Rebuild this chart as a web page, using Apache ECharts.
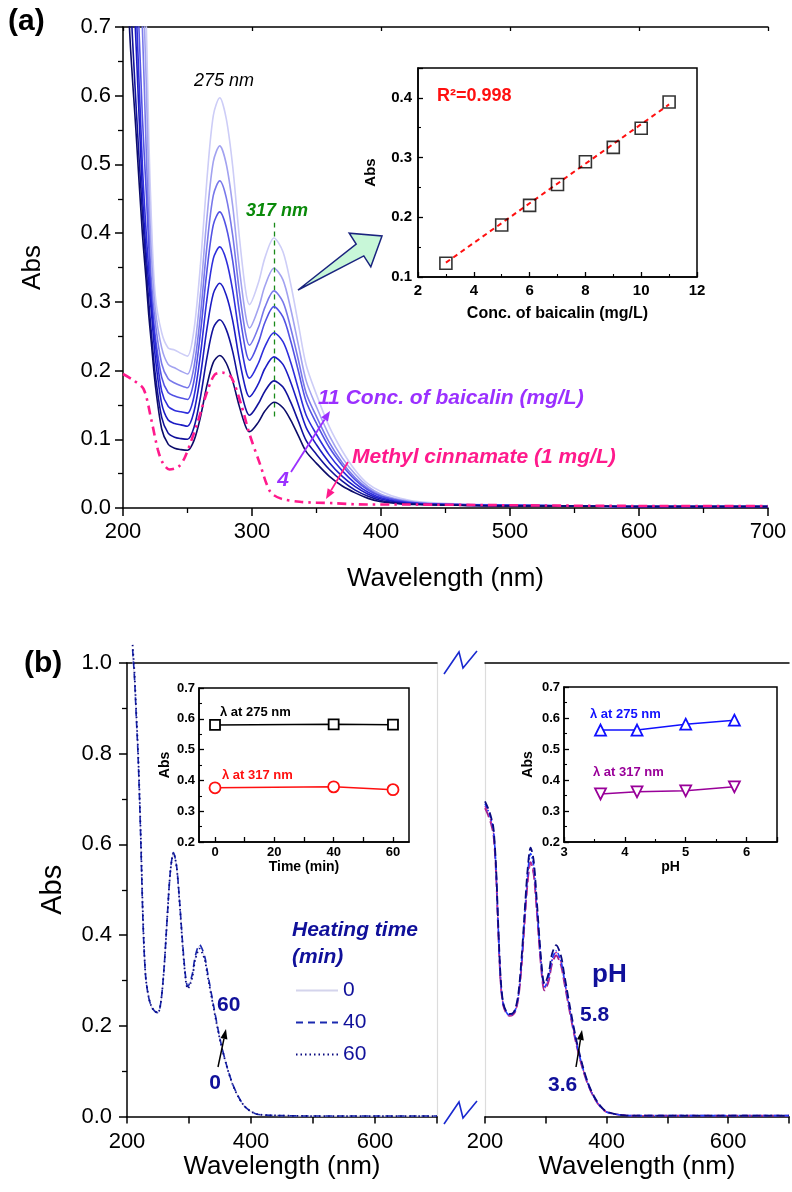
<!DOCTYPE html>
<html><head><meta charset="utf-8">
<script src="https://cdn.jsdelivr.net/npm/echarts@6/dist/echarts.min.js"></script>
<style>html,body{margin:0;padding:0;background:#fff}#c{width:792px;height:1192px}</style>
</head><body><div id="c"></div>
<script>
// ---------- DATA ----------
// Panel (a): wavelength grid (nm)
const wlA = [200,205,210,215,218,220,222,225,230,235,240,245,250,255,260,265,270,275,280,285,290,295,298,305,310,317,324,330,336,342,350,360,370,380,390,400,415,430,460,500,550,600,700];
// Baicalin spectra, low to high concentration
const baic1 = [1.00,0.70,0.55,0.40,0.33,0.28,0.24,0.18,0.115,0.093,0.087,0.085,0.084,0.098,0.132,0.178,0.212,0.222,0.211,0.185,0.149,0.119,0.111,0.125,0.141,0.154,0.146,0.128,0.105,0.082,0.065,0.046,0.032,0.022,0.014,0.009,0.006,0.005,0.004,0.003,0.003,0.002,0.002];
const baic2 = [1.10,0.78,0.59,0.43,0.35,0.30,0.255,0.195,0.132,0.109,0.103,0.101,0.100,0.117,0.161,0.218,0.262,0.274,0.260,0.228,0.182,0.145,0.135,0.152,0.170,0.185,0.176,0.154,0.126,0.098,0.078,0.056,0.039,0.026,0.017,0.011,0.007,0.005,0.004,0.003,0.003,0.002,0.002];
const baic3 = [1.25,0.88,0.68,0.46,0.37,0.325,0.285,0.22,0.152,0.128,0.123,0.121,0.119,0.140,0.192,0.260,0.312,0.327,0.310,0.273,0.218,0.174,0.162,0.181,0.203,0.220,0.209,0.183,0.150,0.117,0.092,0.066,0.046,0.031,0.020,0.013,0.008,0.006,0.004,0.003,0.003,0.002,0.002];
const baic4 = [1.35,0.98,0.74,0.50,0.40,0.345,0.30,0.24,0.17,0.148,0.142,0.140,0.138,0.162,0.223,0.303,0.363,0.380,0.361,0.317,0.254,0.202,0.189,0.211,0.235,0.255,0.242,0.212,0.173,0.135,0.107,0.077,0.054,0.036,0.023,0.015,0.009,0.006,0.005,0.004,0.003,0.002,0.002];
const baic5 = [1.45,1.08,0.82,0.57,0.46,0.38,0.31,0.25,0.19,0.168,0.163,0.160,0.158,0.185,0.254,0.344,0.412,0.431,0.409,0.360,0.288,0.230,0.215,0.241,0.270,0.293,0.278,0.243,0.199,0.155,0.123,0.088,0.062,0.041,0.026,0.017,0.010,0.007,0.005,0.004,0.003,0.002,0.002];
const baic6 = [1.55,1.18,0.92,0.70,0.52,0.41,0.33,0.27,0.21,0.188,0.182,0.178,0.175,0.205,0.280,0.380,0.455,0.476,0.452,0.397,0.318,0.254,0.237,0.263,0.292,0.316,0.300,0.262,0.215,0.167,0.133,0.095,0.066,0.044,0.028,0.018,0.011,0.007,0.005,0.004,0.003,0.002,0.002];
const baic7 = [1.65,1.28,1.02,0.79,0.62,0.47,0.37,0.29,0.233,0.209,0.204,0.199,0.195,0.228,0.311,0.421,0.504,0.527,0.501,0.440,0.352,0.281,0.262,0.291,0.323,0.349,0.332,0.290,0.237,0.185,0.147,0.105,0.073,0.049,0.031,0.020,0.012,0.008,0.005,0.004,0.003,0.002,0.002];
const baic8 = [1.75,1.38,1.12,0.88,0.71,0.54,0.42,0.31,0.255,0.233,0.230,0.225,0.221,0.259,0.353,0.477,0.571,0.597,0.567,0.498,0.398,0.317,0.296,0.328,0.364,0.393,0.373,0.326,0.267,0.208,0.165,0.118,0.083,0.055,0.035,0.024,0.014,0.009,0.006,0.004,0.003,0.002,0.002];
// Methyl cinnamate (1 mg/L)
const mcWl  = [200,208,216,222,227,231,236,243,248,257,265,271,277,284,292,298,306,314,322,337,363,389,420,500,600,700];
const mcAbs = [0.195,0.186,0.173,0.128,0.085,0.065,0.056,0.060,0.074,0.120,0.168,0.194,0.197,0.190,0.148,0.108,0.065,0.024,0.014,0.009,0.007,0.005,0.005,0.004,0.003,0.003];
// 317 nm guide line (Abs range)
const guide317 = [0.133, 0.415];
// Inset (a): calibration
const calConc = [3,5,6,7,8,9,10,11];
const calAbs  = [0.123,0.187,0.220,0.255,0.293,0.317,0.349,0.393];
const fitConc = [3,11];
const fitAbs  = [0.124,0.389];

// Panel (b) left: heating time
const wlB = [209,212,215,218,222,226,230,235,240,245,250,255,260,265,270,275,280,285,290,295,298,305,310,317,325,330,340,350,360,370,380,390,400,410,425,450,500,600,700];
const heat0  = [1.02,0.96,0.88,0.79,0.62,0.42,0.31,0.262,0.240,0.231,0.228,0.255,0.330,0.440,0.540,0.580,0.550,0.470,0.375,0.300,0.285,0.310,0.350,0.376,0.352,0.315,0.240,0.170,0.115,0.072,0.042,0.022,0.011,0.005,0.003,0.002,0.001,0.001,0.001];
const heat40 = [1.03,0.97,0.88,0.79,0.62,0.42,0.31,0.262,0.241,0.232,0.229,0.256,0.332,0.442,0.542,0.582,0.552,0.471,0.377,0.302,0.287,0.312,0.353,0.379,0.355,0.317,0.242,0.171,0.116,0.073,0.043,0.022,0.011,0.005,0.003,0.002,0.001,0.001,0.001];
const heat60 = [1.04,0.98,0.89,0.80,0.63,0.43,0.31,0.263,0.241,0.232,0.229,0.256,0.331,0.441,0.541,0.581,0.550,0.468,0.372,0.297,0.282,0.305,0.345,0.370,0.347,0.310,0.237,0.169,0.115,0.072,0.042,0.022,0.011,0.005,0.003,0.002,0.001,0.001,0.001];
const heatNames = ['0','40','60'];
// Panel (b) right: pH
const wlC = [200,205,210,214,218,222,226,230,235,240,245,250,255,260,265,270,275,280,285,290,295,298,305,310,317,325,330,340,350,360,370,380,390,400,420,440,500,600,700];
const pH36 = [0.680,0.665,0.645,0.620,0.540,0.400,0.290,0.245,0.228,0.222,0.223,0.232,0.262,0.330,0.425,0.515,0.561,0.535,0.455,0.365,0.292,0.278,0.300,0.335,0.355,0.333,0.298,0.226,0.160,0.108,0.068,0.040,0.021,0.010,0.004,0.002,0.002,0.002,0.002];
const pH42 = [0.685,0.670,0.650,0.625,0.545,0.405,0.292,0.246,0.229,0.223,0.224,0.233,0.263,0.331,0.426,0.516,0.561,0.536,0.458,0.370,0.297,0.283,0.306,0.342,0.362,0.340,0.304,0.230,0.163,0.110,0.069,0.041,0.021,0.010,0.004,0.002,0.002,0.002,0.002];
const pH50 = [0.690,0.675,0.655,0.630,0.550,0.410,0.295,0.248,0.230,0.224,0.225,0.235,0.268,0.340,0.438,0.532,0.580,0.553,0.470,0.376,0.300,0.286,0.309,0.345,0.365,0.342,0.306,0.232,0.165,0.111,0.070,0.041,0.022,0.010,0.004,0.002,0.002,0.002,0.002];
const pH58 = [0.695,0.680,0.660,0.635,0.555,0.415,0.300,0.250,0.232,0.226,0.227,0.238,0.272,0.347,0.447,0.543,0.593,0.565,0.480,0.385,0.308,0.293,0.318,0.357,0.378,0.354,0.316,0.240,0.170,0.115,0.072,0.043,0.023,0.011,0.004,0.002,0.002,0.002,0.002];
// Inset (b) left: time
const timeMin = [0,40,60];
const time275 = [0.580,0.582,0.581];
const time317 = [0.376,0.379,0.370];
// Inset (b) right: pH
const pHVals = [3.6,4.2,5.0,5.8];
const pH275 = [0.561,0.561,0.580,0.593];
const pH317 = [0.355,0.362,0.365,0.378];

// ---------- CHART ----------
const SANS = "'Liberation Sans', Arial, sans-serif";
const zip = (xs, ys) => xs.map((x, i) => [x, ys[i]]);
const chart = echarts.init(document.getElementById('c'), null, {renderer: 'canvas'});

function lineAx(extra) {
  return Object.assign({
    type: 'value',
    splitLine: {show: false},
    axisLine: {show: true, onZero: false, lineStyle: {color: '#000', width: 1.5}},
    axisTick: {show: true, length: 8, lineStyle: {color: '#000', width: 1.5}},
    minorTick: {show: false},
    axisLabel: {color: '#000', fontFamily: SANS, fontSize: 22},
    nameTextStyle: {color: '#000', fontFamily: SANS}
  }, extra);
}
const fmt1 = v => (Math.abs(v * 10 - Math.round(v * 10)) < 1e-6 ? v.toFixed(1) : '');
const insetTick = {show: true, inside: true, length: 5, lineStyle: {color: '#000', width: 1.3}};
const insetMinor = {show: true, splitNumber: 2, length: 3, lineStyle: {color: '#000', width: 1.1}};
const insetLabel = {color: '#000', fontFamily: SANS, fontWeight: 'bold', fontSize: 13, margin: 4};

const baicSeries = [baic1, baic2, baic3, baic4, baic5, baic6, baic7, baic8];
const baicColors = ['#0c0c6a', '#12129c', '#1c1cc4', '#2e2edc', '#5252e4', '#7878ea', '#a2a2f0', '#cdcdf7'];

const series = [];
baicSeries.forEach((arr, i) => {
  const s = {
    name: 'c' + (i + 1), type: 'line', xAxisIndex: 0, yAxisIndex: 0,
    data: zip(wlA, arr), symbol: 'none', smooth: 0.3, z: 10 - i,
    lineStyle: {color: baicColors[i], width: 1.6}
  };
  if (i === 0) {
    s.markLine = {
      silent: true, symbol: ['none', 'none'], label: {show: false},
      lineStyle: {color: '#1a8a1a', type: [5, 4], width: 1.3},
      data: [[{coord: [317, guide317[0]]}, {coord: [317, guide317[1]]}]]
    };
  }
  series.push(s);
});
series.push({
  name: 'MC', type: 'line', xAxisIndex: 0, yAxisIndex: 0, data: zip(mcWl, mcAbs),
  symbol: 'none', smooth: 0.3, z: 20,
  lineStyle: {color: '#ff1a8c', width: 2.6, type: [9, 5, 2.5, 5]}
});
// inset a
series.push({
  type: 'line', xAxisIndex: 2, yAxisIndex: 1, data: zip(fitConc, fitAbs), symbol: 'none', z: 30,
  lineStyle: {color: '#ff1010', width: 2, type: [5, 4]}
});
series.push({
  type: 'scatter', xAxisIndex: 2, yAxisIndex: 1, data: zip(calConc, calAbs), symbol: 'rect', symbolSize: 12, z: 31,
  itemStyle: {color: 'rgba(255,255,255,0)', borderColor: '#000', borderWidth: 1.6}
});
// panel b left
const heatData = [heat0, heat40, heat60];
const heatStyle = [
  {color: '#d4d4ec', width: 1.2, type: 'solid'},
  {color: '#1a2ab0', width: 1.6, type: [7, 5]},
  {color: '#0a0a80', width: 1.8, type: [1.5, 3]}
];
heatData.forEach((arr, i) => {
  series.push({
    name: heatNames[i], type: 'line', xAxisIndex: 3, yAxisIndex: 2, data: zip(wlB, arr),
    symbol: 'none', smooth: 0.3, clip: false, z: 10 + i, lineStyle: heatStyle[i],
    itemStyle: {color: heatStyle[i].color}
  });
});
// panel b right
const pHData = [pH36, pH42, pH50, pH58];
const pHStyle = [
  {color: '#a0208c', width: 1.8, type: [10, 4]},
  {color: '#cc3399', width: 1.4, type: [6, 3, 2, 3]},
  {color: '#1f3fff', width: 1.6, type: [5, 2, 1.5, 2]},
  {color: '#0a0a80', width: 1.8, type: [8, 4]}
];
pHData.forEach((arr, i) => {
  series.push({
    type: 'line', xAxisIndex: 5, yAxisIndex: 4, data: zip(wlC, arr),
    symbol: 'none', smooth: 0.3, clip: false, z: 10 + i, lineStyle: pHStyle[i]
  });
});
// inset b left
series.push({type: 'line', xAxisIndex: 7, yAxisIndex: 5, data: zip(timeMin, time275), symbol: 'rect', symbolSize: 10, z: 30,
  lineStyle: {color: '#000', width: 1.5}, itemStyle: {color: '#fff', borderColor: '#000', borderWidth: 1.8}});
series.push({type: 'line', xAxisIndex: 7, yAxisIndex: 5, data: zip(timeMin, time317), symbol: 'circle', symbolSize: 11, z: 30,
  lineStyle: {color: '#ff1010', width: 1.5}, itemStyle: {color: '#fff', borderColor: '#ff1010', borderWidth: 1.8}});
// inset b right
series.push({type: 'line', xAxisIndex: 8, yAxisIndex: 6, data: zip(pHVals, pH275), symbol: 'triangle', symbolSize: 11, z: 30,
  lineStyle: {color: '#1010ff', width: 1.5}, itemStyle: {color: '#fff', borderColor: '#1010ff', borderWidth: 1.8}});
series.push({type: 'line', xAxisIndex: 8, yAxisIndex: 6, data: zip(pHVals, pH317), symbol: 'triangle', symbolRotate: 180, symbolSize: 11, z: 30,
  lineStyle: {color: '#990099', width: 1.5}, itemStyle: {color: '#fff', borderColor: '#990099', borderWidth: 1.8}});

function arrow(x1, y1, x2, y2, color, w, hl, hw) {
  const a = Math.atan2(y2 - y1, x2 - x1), c = Math.cos(a), s = Math.sin(a);
  const bx = x2 - hl * c, by = y2 - hl * s;
  return [
    {type: 'line', z: 100, shape: {x1: x1, y1: y1, x2: bx, y2: by}, style: {stroke: color, lineWidth: w}},
    {type: 'polygon', z: 100, shape: {points: [[x2, y2], [bx + hw * s, by - hw * c], [bx - hw * s, by + hw * c]]}, style: {fill: color}}
  ];
}
function txt(text, x, y, font, fill, align) {
  return {type: 'text', z: 100, x: x, y: y, style: {text: text, font: font, fill: fill, textAlign: align || 'left', textVerticalAlign: 'middle'}};
}
const navy = '#10109a';
const graphic = [
  txt('(a)', 8, 22, "bold 30px " + SANS, '#000'),
  txt('(b)', 24, 664, "bold 30px " + SANS, '#000'),
  txt('275 nm', 224, 81, "italic 18px " + SANS, '#000', 'center'),
  txt('317 nm', 277, 211, "italic bold 18px " + SANS, '#0a8a0a', 'center'),
  txt('R²=0.998', 437, 96, "bold 18px " + SANS, '#ff1010'),
  txt('11 Conc. of baicalin (mg/L)', 318, 398, "italic bold 21px " + SANS, '#9b30ff'),
  txt('4', 283, 480, "italic bold 21px " + SANS, '#9b30ff', 'center'),
  txt('Methyl cinnamate (1 mg/L)', 352, 457, "italic bold 21px " + SANS, '#ff1a8c'),
  txt('λ at 275 nm', 220, 712, "bold 13px " + SANS, '#000'),
  txt('λ at 317 nm', 222, 775, "bold 13px " + SANS, '#ff1010'),
  txt('λ at 275 nm', 590, 714, "bold 13px " + SANS, '#1010ff'),
  txt('λ at 317 nm', 593, 772, "bold 13px " + SANS, '#990099'),
  txt('Heating time', 292, 930, "italic bold 21px " + SANS, navy),
  txt('(min)', 292, 957, "italic bold 21px " + SANS, navy),
  txt('60', 217, 1005, "bold 21px " + SANS, navy),
  txt('0', 215, 1083, "bold 21px " + SANS, navy, 'center'),
  txt('pH', 592, 975, "bold 26px " + SANS, navy),
  txt('5.8', 580, 1015, "bold 21px " + SANS, navy),
  txt('3.6', 548, 1085, "bold 21px " + SANS, navy),
  // block arrow
  {type: 'polygon', z: 100, shape: {points: [[298, 290], [363.8, 255.9], [370.8, 266.8], [382, 236], [349.2, 233.2], [356.2, 244.1]]},
   style: {fill: '#c8f7d8', stroke: '#1a237e', lineWidth: 1.5}},
  // axis break marks
  {type: 'polyline', z: 100, shape: {points: [[444, 674], [459, 652], [463, 668], [477, 651]]}, style: {stroke: '#1a2ad0', lineWidth: 1.6, fill: null}},
  {type: 'polyline', z: 100, shape: {points: [[444, 1124], [459, 1102], [463, 1118], [477, 1101]]}, style: {stroke: '#1a2ad0', lineWidth: 1.6, fill: null}}
]
  .concat(arrow(291, 472, 330, 411, '#9b30ff', 1.8, 10, 4))
  .concat(arrow(348, 462, 326, 499, '#ff1a8c', 1.8, 10, 4))
  .concat(arrow(218, 1067, 226, 1029, '#000', 1.5, 10, 3.5))
  .concat(arrow(576, 1067, 582, 1030, '#000', 1.5, 10, 3.5));

const wlLabel = v => (v === 200 || v === 400 || v === 600) ? String(v) : '';

const option = {
  animation: false,
  backgroundColor: '#fff',
  grid: [
    {left: 123, top: 27, width: 645, height: 481},
    {left: 418, top: 68, width: 279, height: 209, show: true, borderColor: '#000', borderWidth: 1.5, backgroundColor: '#fff'},
    {left: 127, top: 663, width: 310, height: 453.5},
    {left: 485, top: 663, width: 311, height: 453.5},
    {left: 199, top: 688, width: 210, height: 154, show: true, borderColor: '#000', borderWidth: 1.5, backgroundColor: '#fff'},
    {left: 564, top: 687, width: 213, height: 155, show: true, borderColor: '#000', borderWidth: 1.5, backgroundColor: '#fff'}
  ],
  xAxis: [
    lineAx({gridIndex: 0, min: 200, max: 700, interval: 100,
      minorTick: {show: true, splitNumber: 2, length: 5, lineStyle: {color: '#000', width: 1.3}},
      axisLabel: {color: '#000', fontFamily: SANS, fontSize: 22, margin: 13},
      name: 'Wavelength (nm)', nameLocation: 'middle', nameGap: 58, nameTextStyle: {color: '#000', fontFamily: SANS, fontSize: 26}}),
    lineAx({gridIndex: 0, position: 'top', min: 200, max: 700, interval: 100,
      axisTick: {show: true, inside: true, length: 4, lineStyle: {color: '#000', width: 1.3}}, axisLabel: {show: false}}),
    lineAx({gridIndex: 1, min: 2, max: 12, interval: 2, axisTick: insetTick, minorTick: insetMinor,
      axisLabel: Object.assign({}, insetLabel, {fontSize: 15, margin: 6}),
      name: 'Conc. of baicalin (mg/L)', nameLocation: 'middle', nameGap: 29,
      nameTextStyle: {color: '#000', fontFamily: SANS, fontWeight: 'bold', fontSize: 16}}),
    lineAx({gridIndex: 2, min: 200, max: 700, interval: 100, axisTick: {show: true, length: 7, lineStyle: {color: '#000', width: 1.5}},
      axisLabel: {color: '#000', fontFamily: SANS, fontSize: 22, margin: 14, formatter: wlLabel},
      name: 'Wavelength (nm)', nameLocation: 'middle', nameGap: 35, nameTextStyle: {color: '#000', fontFamily: SANS, fontSize: 26}}),
    lineAx({gridIndex: 2, position: 'top', min: 200, max: 700, axisTick: {show: false}, axisLabel: {show: false}}),
    lineAx({gridIndex: 3, min: 200, max: 700, interval: 100, axisTick: {show: true, length: 7, lineStyle: {color: '#000', width: 1.5}},
      axisLabel: {color: '#000', fontFamily: SANS, fontSize: 22, margin: 14, formatter: wlLabel},
      name: 'Wavelength (nm)', nameLocation: 'middle', nameGap: 35, nameTextStyle: {color: '#000', fontFamily: SANS, fontSize: 26}}),
    lineAx({gridIndex: 3, position: 'top', min: 200, max: 700, axisTick: {show: false}, axisLabel: {show: false}}),
    lineAx({gridIndex: 4, min: -5.4, max: 65.4,
      axisTick: Object.assign({}, insetTick, {customValues: [0, 10, 20, 30, 40, 50, 60]}),
      axisLabel: Object.assign({}, insetLabel, {customValues: [0, 20, 40, 60]}),
      name: 'Time (min)', nameLocation: 'middle', nameGap: 18,
      nameTextStyle: {color: '#000', fontFamily: SANS, fontWeight: 'bold', fontSize: 14}}),
    lineAx({gridIndex: 5, min: 3, max: 6.5, interval: 1, axisTick: insetTick, minorTick: insetMinor,
      axisLabel: Object.assign({}, insetLabel, {formatter: v => (Number.isInteger(v) ? String(v) : '')}),
      name: 'pH', nameLocation: 'middle', nameGap: 18,
      nameTextStyle: {color: '#000', fontFamily: SANS, fontWeight: 'bold', fontSize: 14}})
  ],
  yAxis: [
    lineAx({gridIndex: 0, min: 0, max: 0.7, interval: 0.1,
      minorTick: {show: true, splitNumber: 2, length: 5, lineStyle: {color: '#000', width: 1.3}},
      axisLabel: {color: '#000', fontFamily: SANS, fontSize: 22, margin: 12, formatter: fmt1},
      name: 'Abs', nameLocation: 'middle', nameGap: 77, nameRotate: 90, nameTextStyle: {color: '#000', fontFamily: SANS, fontSize: 26}}),
    lineAx({gridIndex: 1, min: 0.1, max: 0.45, interval: 0.1, axisTick: insetTick, minorTick: insetMinor,
      axisLabel: Object.assign({}, insetLabel, {fontSize: 15, margin: 6, formatter: fmt1}),
      name: 'Abs', nameLocation: 'middle', nameGap: 40, nameRotate: 90,
      nameTextStyle: {color: '#000', fontFamily: SANS, fontWeight: 'bold', fontSize: 15}}),
    lineAx({gridIndex: 2, min: 0, max: 1, interval: 0.2,
      minorTick: {show: true, splitNumber: 2, length: 5, lineStyle: {color: '#000', width: 1.3}},
      axisLabel: {color: '#000', fontFamily: SANS, fontSize: 22, margin: 15, formatter: fmt1},
      name: 'Abs', nameLocation: 'middle', nameGap: 60, nameRotate: 90, nameTextStyle: {color: '#000', fontFamily: SANS, fontSize: 29}}),
    lineAx({gridIndex: 2, position: 'right', min: 0, max: 1, axisLine: {show: true, lineStyle: {color: '#dcdcdc', width: 1.2}},
      axisTick: {show: false}, axisLabel: {show: false}}),
    lineAx({gridIndex: 3, min: 0, max: 1, axisLine: {show: true, lineStyle: {color: '#dcdcdc', width: 1.2}},
      axisTick: {show: false}, axisLabel: {show: false}}),
    lineAx({gridIndex: 4, min: 0.2, max: 0.7, interval: 0.1, axisTick: insetTick, minorTick: insetMinor,
      axisLabel: Object.assign({}, insetLabel, {formatter: fmt1}),
      name: 'Abs', nameLocation: 'middle', nameGap: 27, nameRotate: 90,
      nameTextStyle: {color: '#000', fontFamily: SANS, fontWeight: 'bold', fontSize: 14}}),
    lineAx({gridIndex: 5, min: 0.2, max: 0.7, interval: 0.1, axisTick: insetTick, minorTick: insetMinor,
      axisLabel: Object.assign({}, insetLabel, {formatter: fmt1}),
      name: 'Abs', nameLocation: 'middle', nameGap: 29, nameRotate: 90,
      nameTextStyle: {color: '#000', fontFamily: SANS, fontWeight: 'bold', fontSize: 14}})
  ],
  legend: {
    data: heatNames, orient: 'vertical', left: 290, top: 975, itemWidth: 42, itemHeight: 14, itemGap: 11,
    selectedMode: false, itemStyle: {opacity: 0},
    textStyle: {color: navy, fontFamily: SANS, fontSize: 21, width: 34, align: 'right'}
  },
  series: series,
  graphic: graphic
};
chart.setOption(option);
</script></body></html>
